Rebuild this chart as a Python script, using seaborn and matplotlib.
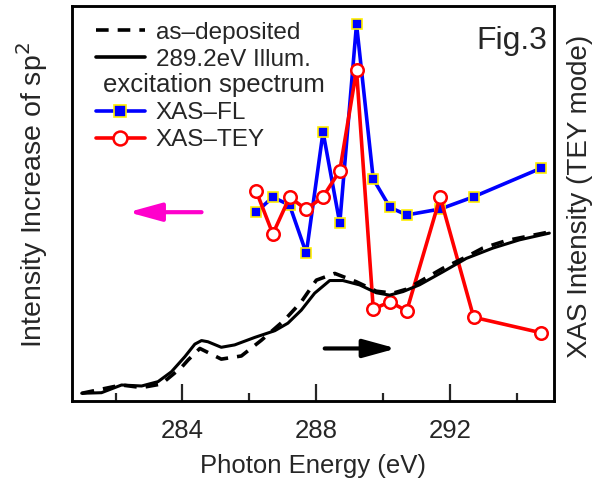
import matplotlib
matplotlib.use("Agg")
import matplotlib.pyplot as plt
import seaborn as sns
import pandas as pd
from matplotlib.lines import Line2D

# ---------------- data ----------------
# excitation spectra (left axis, arbitrary units 0-100)
exc_energy = [286.2, 286.7, 287.2, 287.7, 288.2, 288.7, 289.2, 289.7, 290.2, 290.7, 291.7, 292.7, 294.7]
xas_fl = [47.8, 51.6, 49.6, 37.4, 68.1, 45.0, 95.4, 56.2, 49.0, 47.1, 48.6, 51.7, 58.9]
xas_tey = [53.2, 42.3, 51.6, 48.5, 51.7, 58.3, 83.8, 23.3, 25.1, 22.8, 51.6, 21.2, 17.3]

# XAS spectra (right axis, arbitrary units 0-100)
illum_energy = [280.99, 281.58, 282.18, 282.78, 283.27, 283.67, 284.07, 284.37, 284.57, 284.76,
                285.16, 285.56, 286.16, 286.76, 287.15, 287.55, 287.95, 288.40, 288.79, 289.29,
                289.79, 290.19, 290.59, 291.08, 291.78, 292.48, 293.27, 294.07, 294.96]
illum = [1.95, 2.1, 4.05, 3.8, 4.9, 7.4, 11.2, 14.4, 15.3, 15.0,
         13.6, 14.2, 16.1, 17.8, 19.7, 23.0, 27.3, 30.5, 30.5, 29.4,
         27.4, 26.8, 27.7, 29.4, 32.7, 36.1, 38.7, 40.8, 42.5]

dep_energy = [280.99, 282.18, 282.78, 283.37, 283.97, 284.17, 284.52, 285.16, 285.76, 286.36,
              287.05, 287.55, 288.00, 288.55, 289.19, 289.79, 290.29, 290.69, 291.78, 292.48,
              292.97, 293.67, 294.37, 294.96]
as_dep = [1.95, 4.05, 3.4, 4.3, 8.5, 10.4, 13.3, 10.6, 11.4, 15.4,
          20.5, 25.1, 30.6, 32.3, 30.2, 27.8, 27.3, 28.3, 33.6, 36.5,
          38.7, 40.6, 41.8, 42.8]

xticks_major = [284, 288, 292]
xticks_minor = [282, 286, 290, 294]

# ---------------- style ----------------
sns.set_style("ticks")
plt.rcParams["font.family"] = ["Liberation Sans", "DejaVu Sans"]
fs = 18.5

fig = plt.figure(figsize=(5.98, 4.82), dpi=100)
ax = fig.add_axes([72 / 598, 81 / 482, 482 / 598, 395 / 482])
ax2 = ax.twinx()

exc = pd.DataFrame({"E": exc_energy, "FL": xas_fl, "TEY": xas_tey})
sns.lineplot(data=exc, x="E", y="FL", ax=ax, color="#0000FF", lw=2.6, sort=False,
             marker="s", markersize=7.5, markerfacecolor="#0000FF",
             markeredgecolor="#FFEE00", markeredgewidth=1.2, zorder=4)
sns.lineplot(data=exc, x="E", y="TEY", ax=ax, color="#FF0000", lw=2.6, sort=False,
             marker="o", markersize=9, markerfacecolor="white",
             markeredgecolor="#FF0000", markeredgewidth=1.8, zorder=5)

sns.lineplot(x=dep_energy, y=as_dep, ax=ax2, color="black", lw=2.6, sort=False,
             linestyle=(0, (3.5, 2.5)))
sns.lineplot(x=illum_energy, y=illum, ax=ax2, color="black", lw=2.2, sort=False)

for a in (ax, ax2):
    a.set_xlim(280.7, 295.1)
    a.set_ylim(0, 100)
    a.set_yticks([])
    a.grid(False)

ax.set_xticks(xticks_major)
ax.set_xticks(xticks_minor, minor=True)
ax.tick_params(axis="x", which="major", direction="in", length=12, width=1.6,
               labelsize=fs, pad=13, top=False)
ax.tick_params(axis="x", which="minor", direction="in", length=6, width=1.6, top=False)
ax2.tick_params(axis="both", length=0)

for a in (ax, ax2):
    for sp in a.spines.values():
        sp.set_linewidth(1.8)
        sp.set_color("black")

ax.set_xlabel("Photon Energy (eV)", fontsize=fs, labelpad=8)
ax.set_ylabel("Intensity Increase of sp$^2$", fontsize=20.5)
ax2.set_ylabel("XAS Intensity (TEY mode)", fontsize=20)
ax.yaxis.set_label_coords(-0.045, 0.522)
ax2.yaxis.set_label_coords(1.027, 0.519)

# legend
handles = [
    Line2D([], [], color="black", lw=2.6, linestyle=(0, (3.5, 2.5))),
    Line2D([], [], color="black", lw=2.6),
    Line2D([], [], color="none"),
    Line2D([], [], color="#0000FF", lw=2.6, marker="s", markersize=9,
           markerfacecolor="#0000FF", markeredgecolor="#FFEE00", markeredgewidth=1.2),
    Line2D([], [], color="#FF0000", lw=2.6, marker="o", markersize=10,
           markerfacecolor="white", markeredgecolor="#FF0000", markeredgewidth=1.8),
]
labels = ["as\u2013deposited", "289.2eV Illum.", " ", "XAS\u2013FL", "XAS\u2013TEY"]
leg = ax2.legend(handles, labels, loc="upper left", bbox_to_anchor=(0.05, 0.96),
                 frameon=False, fontsize=17.5, handlelength=2.0, handletextpad=0.45,
                 labelspacing=0.2, borderpad=0, borderaxespad=0)
ax2.text(0.064, 0.80, "excitation spectrum", transform=ax2.transAxes,
         fontsize=18.5, ha="left", va="center")
ax2.text(0.985, 0.912, "Fig.3", transform=ax2.transAxes, fontsize=23,
         ha="right", va="center")

# direction arrows
ax.annotate("", xy=(282.38, 47.8), xytext=(284.57, 47.8),
            arrowprops=dict(arrowstyle="-|>,head_length=0.8,head_width=0.22",
                            mutation_scale=25, color="#FF00CC", lw=3,
                            shrinkA=0, shrinkB=0))
ax2.annotate("", xy=(290.39, 13.3), xytext=(288.25, 13.3),
             arrowprops=dict(arrowstyle="-|>,head_length=0.8,head_width=0.22",
                             mutation_scale=25, color="black", lw=3,
                             shrinkA=0, shrinkB=0))

fig.savefig("out.png", dpi=100)
